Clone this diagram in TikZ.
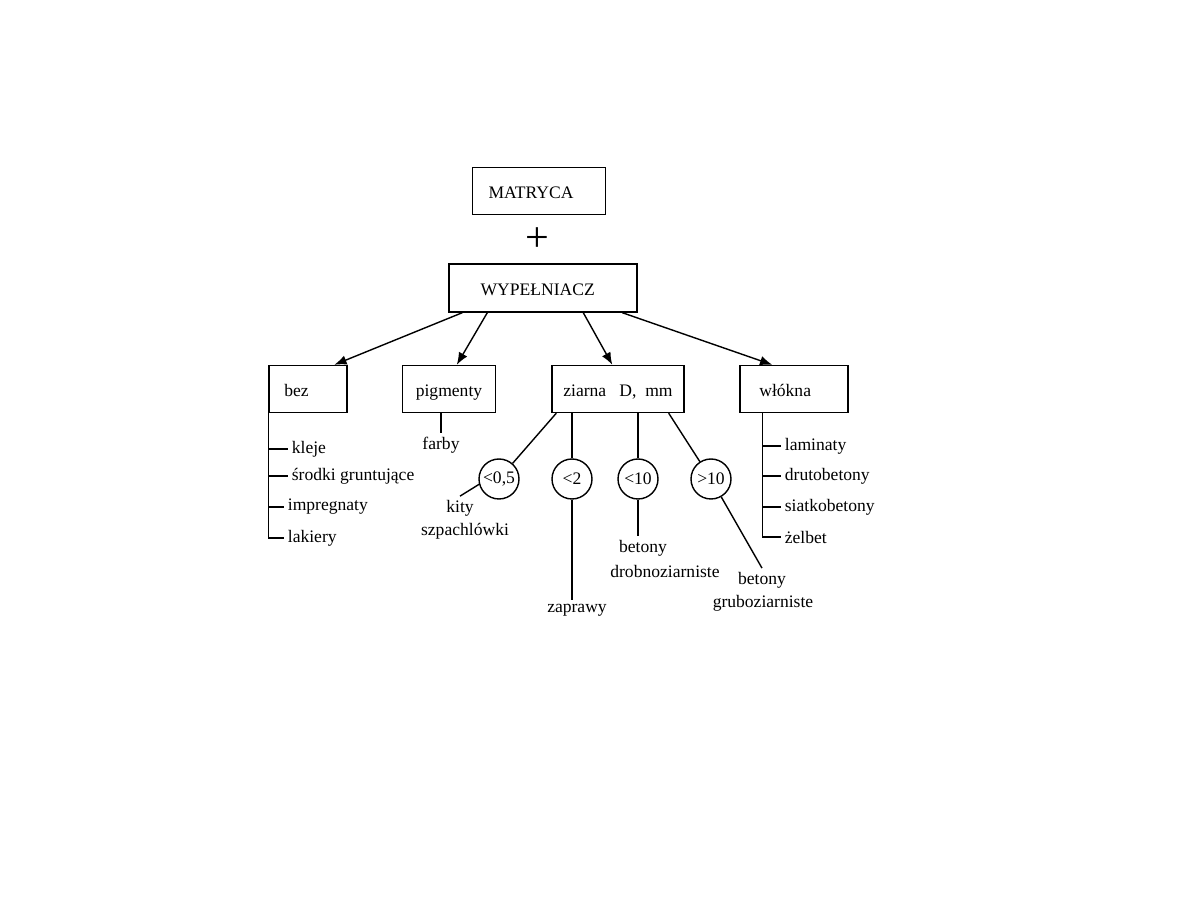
\documentclass[tikz,border=0pt]{standalone}
\usepackage{fontspec}
\setmainfont{Liberation Serif}
\usetikzlibrary{arrows.meta}

\begin{document}
\begin{tikzpicture}[
  x=0.02cm, y=-0.02cm,
  box/.style={draw, thick, minimum height=0.94cm, inner sep=2pt, text height=2.1ex, text depth=0.25ex},
  ring/.style={draw, thick, circle, minimum size=0.8cm, inner sep=0pt},
  item/.style={anchor=west, inner sep=2pt},
  leaf/.style={inner sep=2pt},
  arrow/.style={->, thick, >={Latex[length=7pt,width=5.5pt]}}
]
  \useasboundingbox (0,0) rectangle (1188,918);

  % Top
  \node[box, minimum width=2.66cm] (matryca) at (539,191) {MATRYCA\hspace*{9pt}};
  \node[font=\fontsize{24}{24}\selectfont, inner sep=0pt] (plus) at (537,240) {+};
  \node[box, minimum width=3.76cm, minimum height=0.96cm] (wyp) at (543,288) {WYPEŁNIACZ\hspace*{6pt}};

  % Groups
  \node[box, minimum width=1.56cm] (bez) at (308,389) {bez\hspace*{13pt}};
  \node[box, minimum width=1.86cm] (pigmenty) at (449,389) {pigmenty};
  \node[box, minimum width=2.64cm] (ziarna) at (618,389) {ziarna~~~D,~~mm};
  \node[box, minimum width=2.16cm] (wlokna) at (794,389) {włókna\hspace*{10pt}};

  % Arrows
  \draw[arrow] ([xshift=0.28cm]wyp.south west) -- ([xshift=1.32cm]bez.north west);
  \draw[arrow] ([xshift=0.78cm]wyp.south west) -- ([xshift=1.1cm]pigmenty.north west);
  \draw[arrow] ([xshift=2.7cm]wyp.south west) -- ([xshift=1.22cm]ziarna.north west);
  \draw[arrow] ([xshift=3.48cm]wyp.south west) -- ([xshift=0.66cm]wlokna.north west);

  % bez
  \node[item] (kleje) at (288,449) {kleje};
  \node[item] (srodki) at (288,476) {środki gruntujące};
  \node[item] (impregnaty) at (284,507) {impregnaty};
  \node[item] (lakiery) at (284,538) {lakiery};
  \draw[thick] (bez.south west) |- (lakiery.west);
  \draw[thick] (bez.south west |- kleje.west) -- (kleje.west);
  \draw[thick] (bez.south west |- srodki.west) -- (srodki.west);
  \draw[thick] (bez.south west |- impregnaty.west) -- (impregnaty.west);

  % pigmenty
  \node[leaf] (farby) at (441,445) {farby};
  \draw[thick] (farby.north |- pigmenty.south) -- (farby.north);

  % ziarna
  \node[ring] (lt05) at (499,479) {<0,5};
  \node[ring] (lt2) at (572,479) {<2};
  \node[ring] (lt10) at (638,479) {<10};
  \node[ring] (gt10) at (711,479) {>10};
  \draw[thick] ([xshift=0.1cm]ziarna.south west) -- (lt05);
  \draw[thick] (lt2.north |- ziarna.south) -- (lt2.north);
  \draw[thick] (lt10.north |- ziarna.south) -- (lt10.north);
  \draw[thick] ([xshift=-0.32cm]ziarna.south east) -- (gt10);

  \node[leaf] (kity) at (460,508) {kity};
  \node[leaf] (szpachlowki) at (465,531) {szpachlówki};
  \node[leaf] (zaprawy) at (577,610) {zaprawy};
  \node[leaf] (betonyd) at (643,548) {betony};
  \node[leaf] (drobno) at (665,571) {drobnoziarniste};
  \node[leaf] (betonyg) at (762,580) {betony};
  \node[leaf] (grubo) at (763,603) {gruboziarniste};
  \draw[thick] (lt05.195) -- (kity.north);
  \draw[thick] (lt2.south) -- (lt2.south |- zaprawy.north);
  \draw[thick] (lt10.south) -- (lt10.south |- betonyd.north);
  \draw[thick] (gt10) -- (betonyg.north);

  % wlokna
  \node[item] (laminaty) at (781,446) {laminaty};
  \node[item] (drutobetony) at (781,476) {drutobetony};
  \node[item] (siatkobetony) at (781,507) {siatkobetony};
  \node[item] (zelbet) at (781,537) {żelbet};
  \coordinate (wtrunk) at ([xshift=0.46cm]wlokna.south west);
  \draw[thick] (wtrunk) |- (zelbet.west);
  \draw[thick] (wtrunk |- laminaty.west) -- (laminaty.west);
  \draw[thick] (wtrunk |- drutobetony.west) -- (drutobetony.west);
  \draw[thick] (wtrunk |- siatkobetony.west) -- (siatkobetony.west);
\end{tikzpicture}
\end{document}
